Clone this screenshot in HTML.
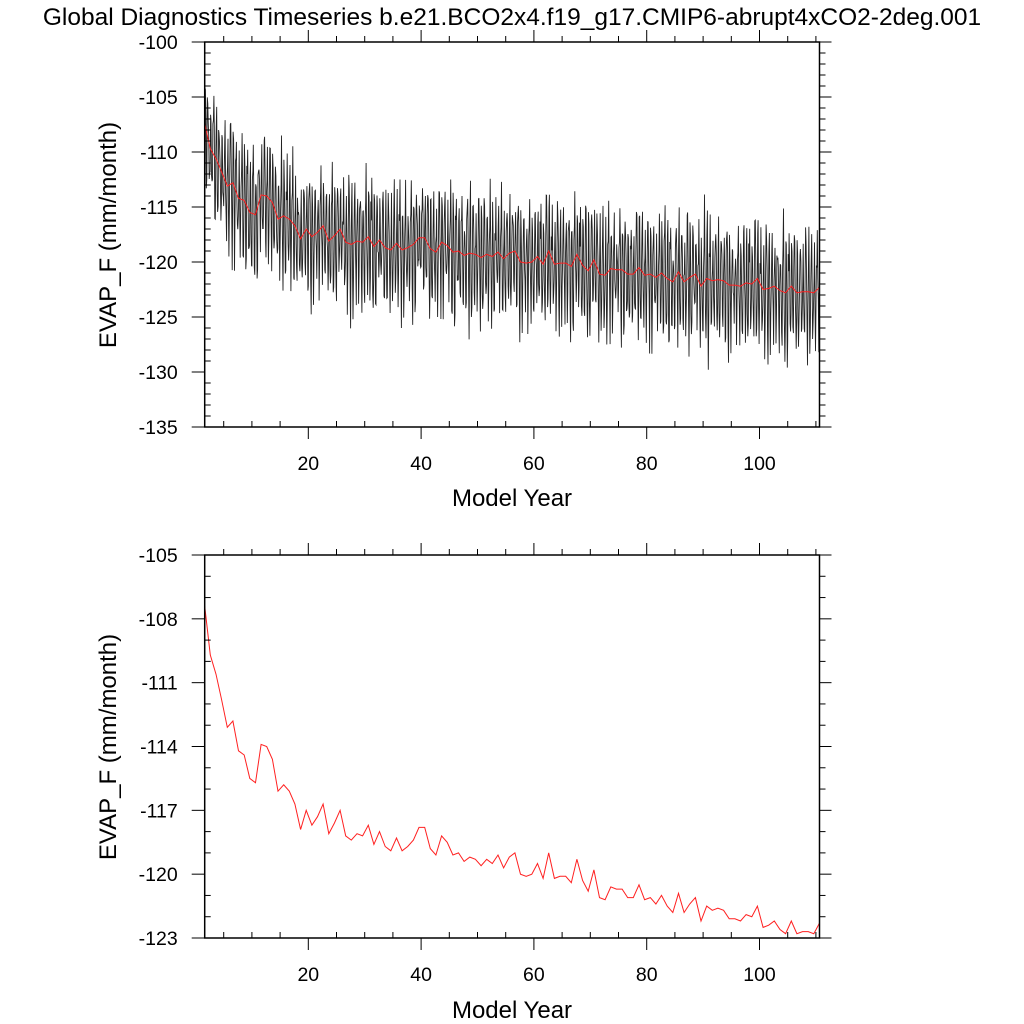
<!DOCTYPE html>
<html><head><meta charset="utf-8">
<style>
html,body{margin:0;padding:0;background:#fff;}
svg{display:block;font-family:"Liberation Sans",Arial,sans-serif;}
</style></head>
<body>
<svg id="chart" width="1024" height="1024" viewBox="0 0 1024 1024">
<text x="512" y="25" text-anchor="middle" font-size="24.5">Global Diagnostics Timeseries b.e21.BCO2x4.f19_g17.CMIP6-abrupt4xCO2-2deg.001</text>
<g id="top"></g>
<g id="bot"></g>
</svg>
<script>
// Annual mean EVAP_F (mm/month), model years 1..110
const annualMean = [-107.4,-109.7,-110.6,-111.8,-113.1,-112.8,-114.2,-114.4,-115.5,-115.7,
-113.9,-114.0,-114.6,-116.1,-115.8,-116.1,-116.7,-117.9,-117.0,-117.7,
-117.3,-116.7,-118.1,-117.6,-117.0,-118.2,-118.4,-118.1,-118.2,-117.7,
-118.6,-118.0,-118.7,-118.9,-118.3,-118.9,-118.7,-118.4,-117.8,-117.8,
-118.8,-119.1,-118.2,-118.5,-119.1,-119.0,-119.4,-119.2,-119.3,-119.6,
-119.3,-119.5,-119.1,-119.7,-119.2,-119.0,-120.0,-120.1,-120.0,-119.5,
-120.2,-119.0,-120.2,-120.1,-120.1,-120.4,-119.3,-120.3,-120.8,-119.8,
-121.1,-121.2,-120.6,-120.7,-120.7,-121.1,-121.1,-120.5,-121.2,-121.1,
-121.4,-121.0,-121.5,-121.8,-120.9,-121.8,-121.4,-121.1,-122.2,-121.5,
-121.7,-121.6,-121.7,-122.1,-122.1,-122.2,-121.9,-122.0,-121.5,-122.5,
-122.4,-122.2,-122.6,-122.8,-122.2,-122.8,-122.7,-122.7,-122.8,-122.3];
// Monthly anomaly about the annual mean (Jan..Dec)
const seasonal = [3.4,4.8,1.0,-3.0,-4.8,-1.2,2.8,3.6,-1.2,-5.0,-3.4,1.6];
// Year-to-year amplitude modulation of the monthly anomaly
const yearAmp = [1.1,0.85,1.25,0.8,1.0,1.3,0.9,1.15,1.0,1.2,0.75,1.1,1.05,0.9,1.25,0.95,1.15,0.8,1.0,1.2,0.9];
// Irregular monthly departures (cycled)
const monthlyNoise = [0.8,-1.2,0.3,1.5,-0.6,-1.8,1.1,0.2,-0.9,1.7,-0.4,-1.3,0.6,1.2,-1.6,0.4,-0.2,1.9,-1.1,0.7,-0.5,-1.4,1.3,0.1,0.9,-0.8,-0.3,1.6,-1.7,0.5,1.0,-0.7,0.2,-1.5,1.4,-0.1,0.6];
const topTicks = [-100,-105,-110,-115,-120,-125,-130,-135];
const botTicks = [-105,-108,-111,-114,-117,-120,-123];
const xTicks = [20,40,60,80,100];
const NS="http://www.w3.org/2000/svg";
const T0 = 1.63; // time of first annual point
function mk(p,tag,attrs){const e=document.createElementNS(NS,tag);for(const k in attrs)e.setAttribute(k,attrs[k]);p.appendChild(e);return e;}
function xs(t){return 204.7+(t-1.63)*5.64;}
function panel(g,y0,y1,vmax,vmin,ticks,minorStep,drawMonthly,ylabY,xlabY){
  const X0=204.7,X1=819.5;
  const ys=v=>y0+(vmax-v)/(vmax-vmin)*(y1-y0);
  if(drawMonthly){
    let d="";let k=0;
    for(let i=0;i<annualMean.length;i++){
      const a=yearAmp[i%yearAmp.length];
      for(let m=0;m<12;m++){
        const t=T0+i+(m-5.5)/12;
        k++;
        if(t<1.63||t>110.6)continue;
        const v=annualMean[i]+seasonal[m]*a+monthlyNoise[k%monthlyNoise.length];
        d+=(d?"L":"M")+xs(t).toFixed(1)+" "+ys(v).toFixed(1);
      }
    }
    const p=mk(g,"path",{d:d,fill:"none",stroke:"#222","stroke-width":"0.9"});
    
    
  }
  let d2="";
  annualMean.forEach((v,i)=>{d2+=(i?"L":"M")+xs(T0+i).toFixed(1)+" "+ys(v).toFixed(1);});
  const r=mk(g,"path",{d:d2,fill:"none",stroke:"#ff2020","stroke-width":"1"});
  
  
  const f=mk(g,"rect",{x:X0,y:y0,width:X1-X0,height:y1-y0,fill:"none",stroke:"#000","stroke-width":"1.5"});
  
  
  // y ticks: left minor inward, left major outward; right all outward
  for(let v=vmax;v>=vmin-0.001;v-=minorStep){
    const y=ys(v);const major=ticks.some(t=>Math.abs(t-v)<1e-6);
    if(major) mk(g,"line",{x1:X0-13,y1:y,x2:X0,y2:y,stroke:"#000","stroke-width":"1"});
    else mk(g,"line",{x1:X0,y1:y,x2:X0+6,y2:y,stroke:"#000","stroke-width":"1"});
    mk(g,"line",{x1:X1,y1:y,x2:X1+(major?12:6),y2:y,stroke:"#000","stroke-width":"1"});
  }
  ticks.forEach(v=>{
    const t=mk(g,"text",{x:X0-27,y:ys(v)+7,"text-anchor":"end","font-size":"19.5"});
    t.textContent=String(v);
    
    
  });
  for(let yr=5;yr<=110;yr+=5){
    const x=xs(yr);const major=yr%20===0;
    if(major) mk(g,"line",{x1:x,y1:y1,x2:x,y2:y1+12,stroke:"#000","stroke-width":"1"});
    else mk(g,"line",{x1:x,y1:y1-6,x2:x,y2:y1,stroke:"#000","stroke-width":"1"});
    mk(g,"line",{x1:x,y1:y0-(major?12:6),x2:x,y2:y0,stroke:"#000","stroke-width":"1"});
  }
  xTicks.forEach(v=>{
    const t=mk(g,"text",{x:xs(v),y:y1+43,"text-anchor":"middle","font-size":"19.5"});
    t.textContent=String(v);
    
    
  });
  const xl=mk(g,"text",{x:512,y:xlabY,"text-anchor":"middle","font-size":"24"});
  xl.textContent="Model Year";
  
  
  const yl=mk(g,"text",{x:0,y:0,"text-anchor":"middle","font-size":"24","transform":"translate(116,"+ylabY+") rotate(-90)"});
  yl.textContent="EVAP_F (mm/month)";
  
  
}
panel(document.getElementById('top'),42,427,-100,-135,topTicks,1,true,235,506);
panel(document.getElementById('bot'),555,938,-105,-123,botTicks,1,false,747,1018);
</script>
</body></html>
